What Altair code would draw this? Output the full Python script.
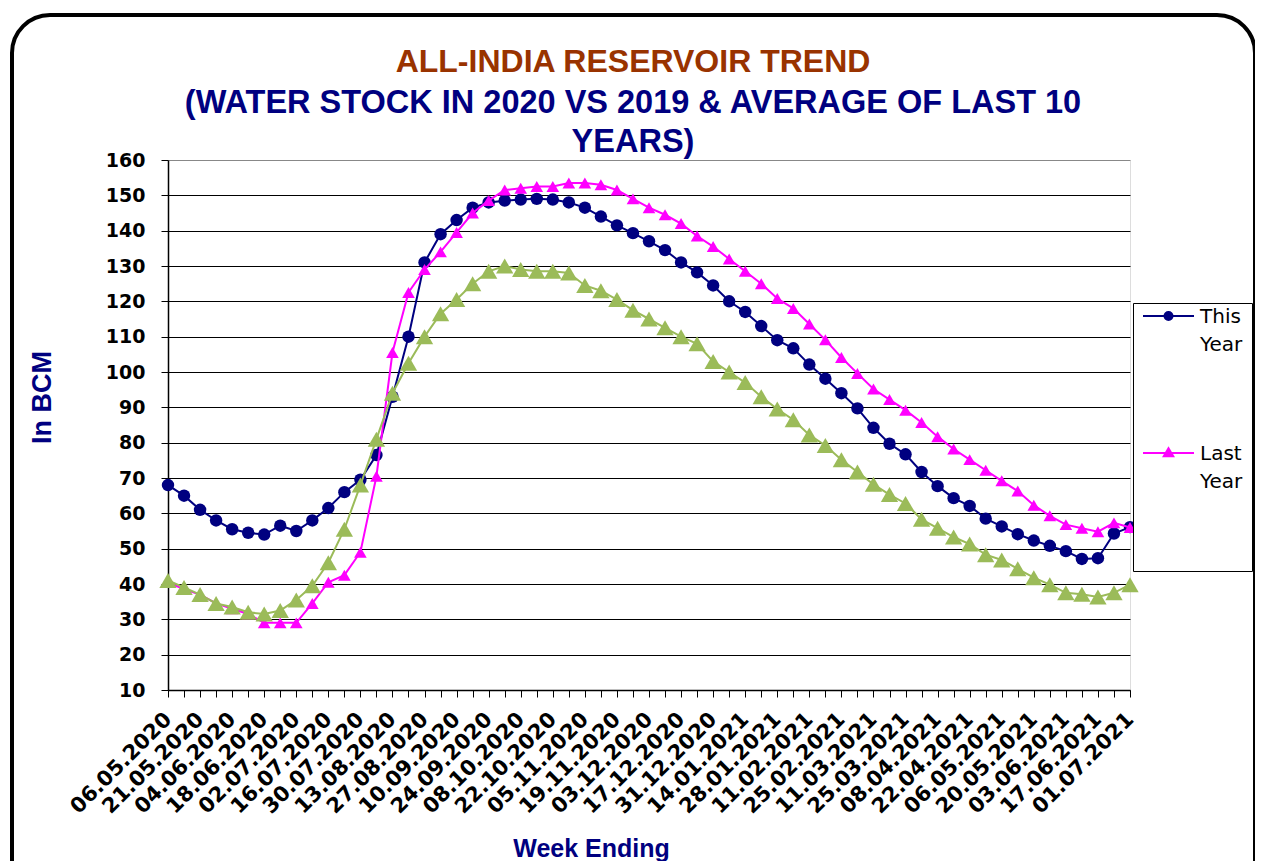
import altair as alt
import pandas as pd

weeks = [
    "06.05.2020", "14.05.2020", "21.05.2020", "28.05.2020", "04.06.2020", "11.06.2020",
    "18.06.2020", "25.06.2020", "02.07.2020", "09.07.2020", "16.07.2020", "23.07.2020",
    "30.07.2020", "06.08.2020", "13.08.2020", "20.08.2020", "27.08.2020", "03.09.2020",
    "10.09.2020", "17.09.2020", "24.09.2020", "01.10.2020", "08.10.2020", "15.10.2020",
    "22.10.2020", "29.10.2020", "05.11.2020", "12.11.2020", "19.11.2020", "26.11.2020",
    "03.12.2020", "10.12.2020", "17.12.2020", "24.12.2020", "31.12.2020", "07.01.2021",
    "14.01.2021", "21.01.2021", "28.01.2021", "04.02.2021", "11.02.2021", "18.02.2021",
    "25.02.2021", "04.03.2021", "11.03.2021", "18.03.2021", "25.03.2021", "01.04.2021",
    "08.04.2021", "15.04.2021", "22.04.2021", "29.04.2021", "06.05.2021", "13.05.2021",
    "20.05.2021", "27.05.2021", "03.06.2021", "10.06.2021", "17.06.2021", "24.06.2021",
    "01.07.2021",
]
labeled_weeks = weeks[::2]

this_year = [
    68, 65, 61, 58, 55.5, 54.5, 54, 56.5, 55, 58,
    61.5, 66, 69.5, 76.5, 93, 110, 131, 139, 143, 146.5,
    148, 148.5, 148.8, 149, 148.8, 148, 146.5, 144, 141.5, 139.3,
    137, 134.5, 131, 128.2, 124.5, 120, 117, 113, 109, 106.7,
    102.1, 98.1, 94, 89.7, 84.2, 79.7, 76.7, 71.7, 67.7, 64.3,
    62.1, 58.5, 56.3, 54.1, 52.3, 50.8, 49.3, 47.1, 47.3, 54.3,
    56.1,
]
last_year = [
    40.5, 38.5, 37, 34.5, 33, 31.5, 29, 29, 29, 34.5,
    40.5, 42.5, 49, 70.5, 105.5, 122.5, 129, 134, 139.5, 145,
    148.5, 151.5, 152, 152.5, 152.5, 153.5, 153.5, 153, 151.5, 149,
    146.5, 144.5, 142, 138.5, 135.5, 132, 128.5, 125, 120.8, 118,
    113.6, 109.1, 104.1, 99.6, 95.2, 92.2, 89.2, 85.7, 81.7, 78.2,
    75.2, 72.2, 69.2, 66.3, 62.3, 59.3, 56.8, 55.8, 54.8, 57.3,
    56,
]
avg_last_10 = [
    41, 39, 37, 34.5, 33.5, 32, 31.5, 32.5, 35.5, 39.5,
    46, 55.5, 68, 81, 94, 102.5, 110, 116.5, 120.5, 125,
    128.5, 130, 129, 128.5, 128.5, 128, 124.5, 123, 120.5, 117.5,
    115, 112.5, 110, 108, 103, 100, 97, 93, 89.5, 86.5,
    82.2, 79.2, 75.2, 71.7, 68.2, 65.3, 62.8, 58.3, 55.8, 53.3,
    51.3, 48.3, 46.8, 44.3, 41.8, 39.8, 37.5, 37.1, 36.3, 37.5,
    39.8,
]

series_names = ["This Year", "Last Year", "Average of Last 10 Years"]
series_colors = ["#000080", "#FF00FF", "#9BBB59"]
legend_names = ["This Year", "Last Year"]
y_ticks = list(range(10, 161, 10))

df = pd.DataFrame({
    "week": weeks * 3,
    "series": [s for s in series_names for _ in weeks],
    "value": this_year + last_year + avg_last_10,
})

# ---- legend symbols: line segment + marker (drawn with strokes only) ----
DX, CY = 1.55, -0.7


def circ(r):
    return (f"M{DX + r:.3f},{CY}A{r},{r},0,1,1,{DX - r:.3f},{CY}"
            f"A{r},{r},0,1,1,{DX + r:.3f},{CY}")


def tri(s):
    return (f"M{DX:.3f},{CY - 0.5 * s:.3f}L{DX + 0.5 * s:.3f},{CY + 0.35 * s:.3f}"
            f"L{DX - 0.5 * s:.3f},{CY + 0.35 * s:.3f}Z")


seg = f"M{DX - 2.55:.3f},{CY}L{DX + 2.55:.3f},{CY}"
path_circle = seg + "".join(circ(r) for r in (0.4, 0.26, 0.12, 0.03))
path_tri = seg + "".join(tri(s) for s in (0.95, 0.65, 0.35, 0.08))

label_font = "DejaVu Sans"
title_font = "Liberation Sans"

lab_arr = "[" + ",".join(f"'{w}'" for w in labeled_weeks) + "]"
pad_nbsp = "\u00a0" * 9

x_enc = alt.X(
    "week:O",
    sort=weeks,
    scale=alt.Scale(type="point", padding=0, domain=weeks),
    axis=alt.Axis(
        title="Week Ending",
        labelAngle=315,
        labelAlign="right",
        labelBaseline="middle",
        labelExpr=f"indexof({lab_arr}, datum.value) >= 0 ? datum.value : ''",
        labelOverlap=False,
        labelFont=label_font,
        labelFontWeight="bold",
        labelFontSize=21,
        labelColor="black",
        labelPadding=19,
        tickSize=7,
        tickColor="black",
        tickWidth=1,
        domainColor="black",
        domainWidth=1.5,
        grid=False,
        titleFont=title_font,
        titleFontSize=25,
        titleFontWeight="bold",
        titleColor="#000080",
        titleX=423,
        titleY=158,
        titleBaseline="middle",
    ),
)
y_enc = alt.Y(
    "value:Q",
    scale=alt.Scale(domain=[10, 160], nice=False, zero=False),
    axis=alt.Axis(
        values=y_ticks,
        title="In BCM",
        grid=True,
        gridColor={"condition": {"test": "datum.value === 160", "value": "#888888"},
                   "value": "black"},
        gridWidth=1,
        labelFont=label_font,
        labelFontWeight="bold",
        labelFontSize=19,
        labelColor="black",
        labelPadding=16,
        tickSize=7,
        tickColor="black",
        domainColor="black",
        domainWidth=1.5,
        titleFont=title_font,
        titleFontSize=27,
        titleFontWeight="bold",
        titleColor="#000080",
        titleX=-126,
        titleY=237,
        titleBaseline="middle",
    ),
)

frame = alt.Chart(pd.DataFrame({"k": [0]})).mark_rect(
    filled=False, stroke="black", strokeWidth=4, cornerRadius=38
).encode(
    x=alt.value(-156), x2=alt.value(1087), y=alt.value(-145), y2=alt.value(740)
)

layers = [frame]
styles = [
    ("This Year", "#000080", "circle", 155, 2),
    ("Last Year", "#FF00FF", "triangle-up", 160, 2),
    ("Average of Last 10 Years", "#9BBB59", "triangle-up", 300, 2),
]
for name, col, shp, size, sw in styles:
    sub = df[df["series"] == name]
    layers.append(
        alt.Chart(sub).mark_line(color=col, strokeWidth=sw).encode(x=x_enc, y=y_enc)
    )
    layers.append(
        alt.Chart(sub).mark_point(
            filled=True, shape=shp, size=size, color=col, opacity=1
        ).encode(x=x_enc, y=y_enc)
    )

legend_args = dict(
    title=" ",
    titleOrient="bottom",
    titleFontSize=10,
    titlePadding=60,
    orient="none",
    legendX=965,
    legendY=143,
    direction="vertical",
    labelExpr=f"[split(datum.label, ' ')[0] + '{pad_nbsp}', split(datum.label, ' ')[1]]",
    labelFont=label_font,
    labelFontSize=20,
    labelColor="black",
    labelLimit=0,
    labelOffset=36,
    labelAlign="left",
    labelBaseline="alphabetic",
    symbolSize=400,
    symbolStrokeWidth=2,
    rowPadding=89,
    padding=9,
    strokeColor="black",
    fillColor="white",
)

legend_layer = alt.Chart(df).transform_filter("false").mark_point(
    filled=False, size=400, strokeWidth=2, opacity=1
).encode(
    color=alt.Color(
        "series:N",
        scale=alt.Scale(domain=legend_names, range=series_colors[:2]),
        legend=alt.Legend(**legend_args),
    ),
    shape=alt.Shape(
        "series:N",
        scale=alt.Scale(domain=legend_names, range=[path_circle, path_tri]),
        legend=alt.Legend(**legend_args),
    ),
)
layers.append(legend_layer)

chart = alt.layer(*layers).properties(
    width=962,
    height=530,
    padding={"left": 160, "top": 152, "right": 125, "bottom": 171},
    autosize=alt.AutoSizeParams(type="none"),
    title=alt.Title(
        text="ALL-INDIA RESERVOIR TREND",
        subtitle=["(WATER STOCK IN 2020 VS 2019 & AVERAGE OF LAST 10", "YEARS)"],
        font=title_font,
        fontSize=32,
        fontWeight="bold",
        color="#993300",
        subtitleFont=title_font,
        subtitleFontSize=32.5,
        subtitleFontWeight="bold",
        subtitleColor="#000080",
        subtitleLineHeight=39,
        subtitlePadding=8,
        anchor="middle",
        frame="group",
        offset=1,
        dx=-16,
        dy=147,
    ),
).configure_view(stroke="#888888", strokeWidth=2).configure(
    background="white", style={"guide-label": {"lineHeight": 28}}
)

chart.save("out.html", embed_options={"renderer": "svg", "actions": False})
